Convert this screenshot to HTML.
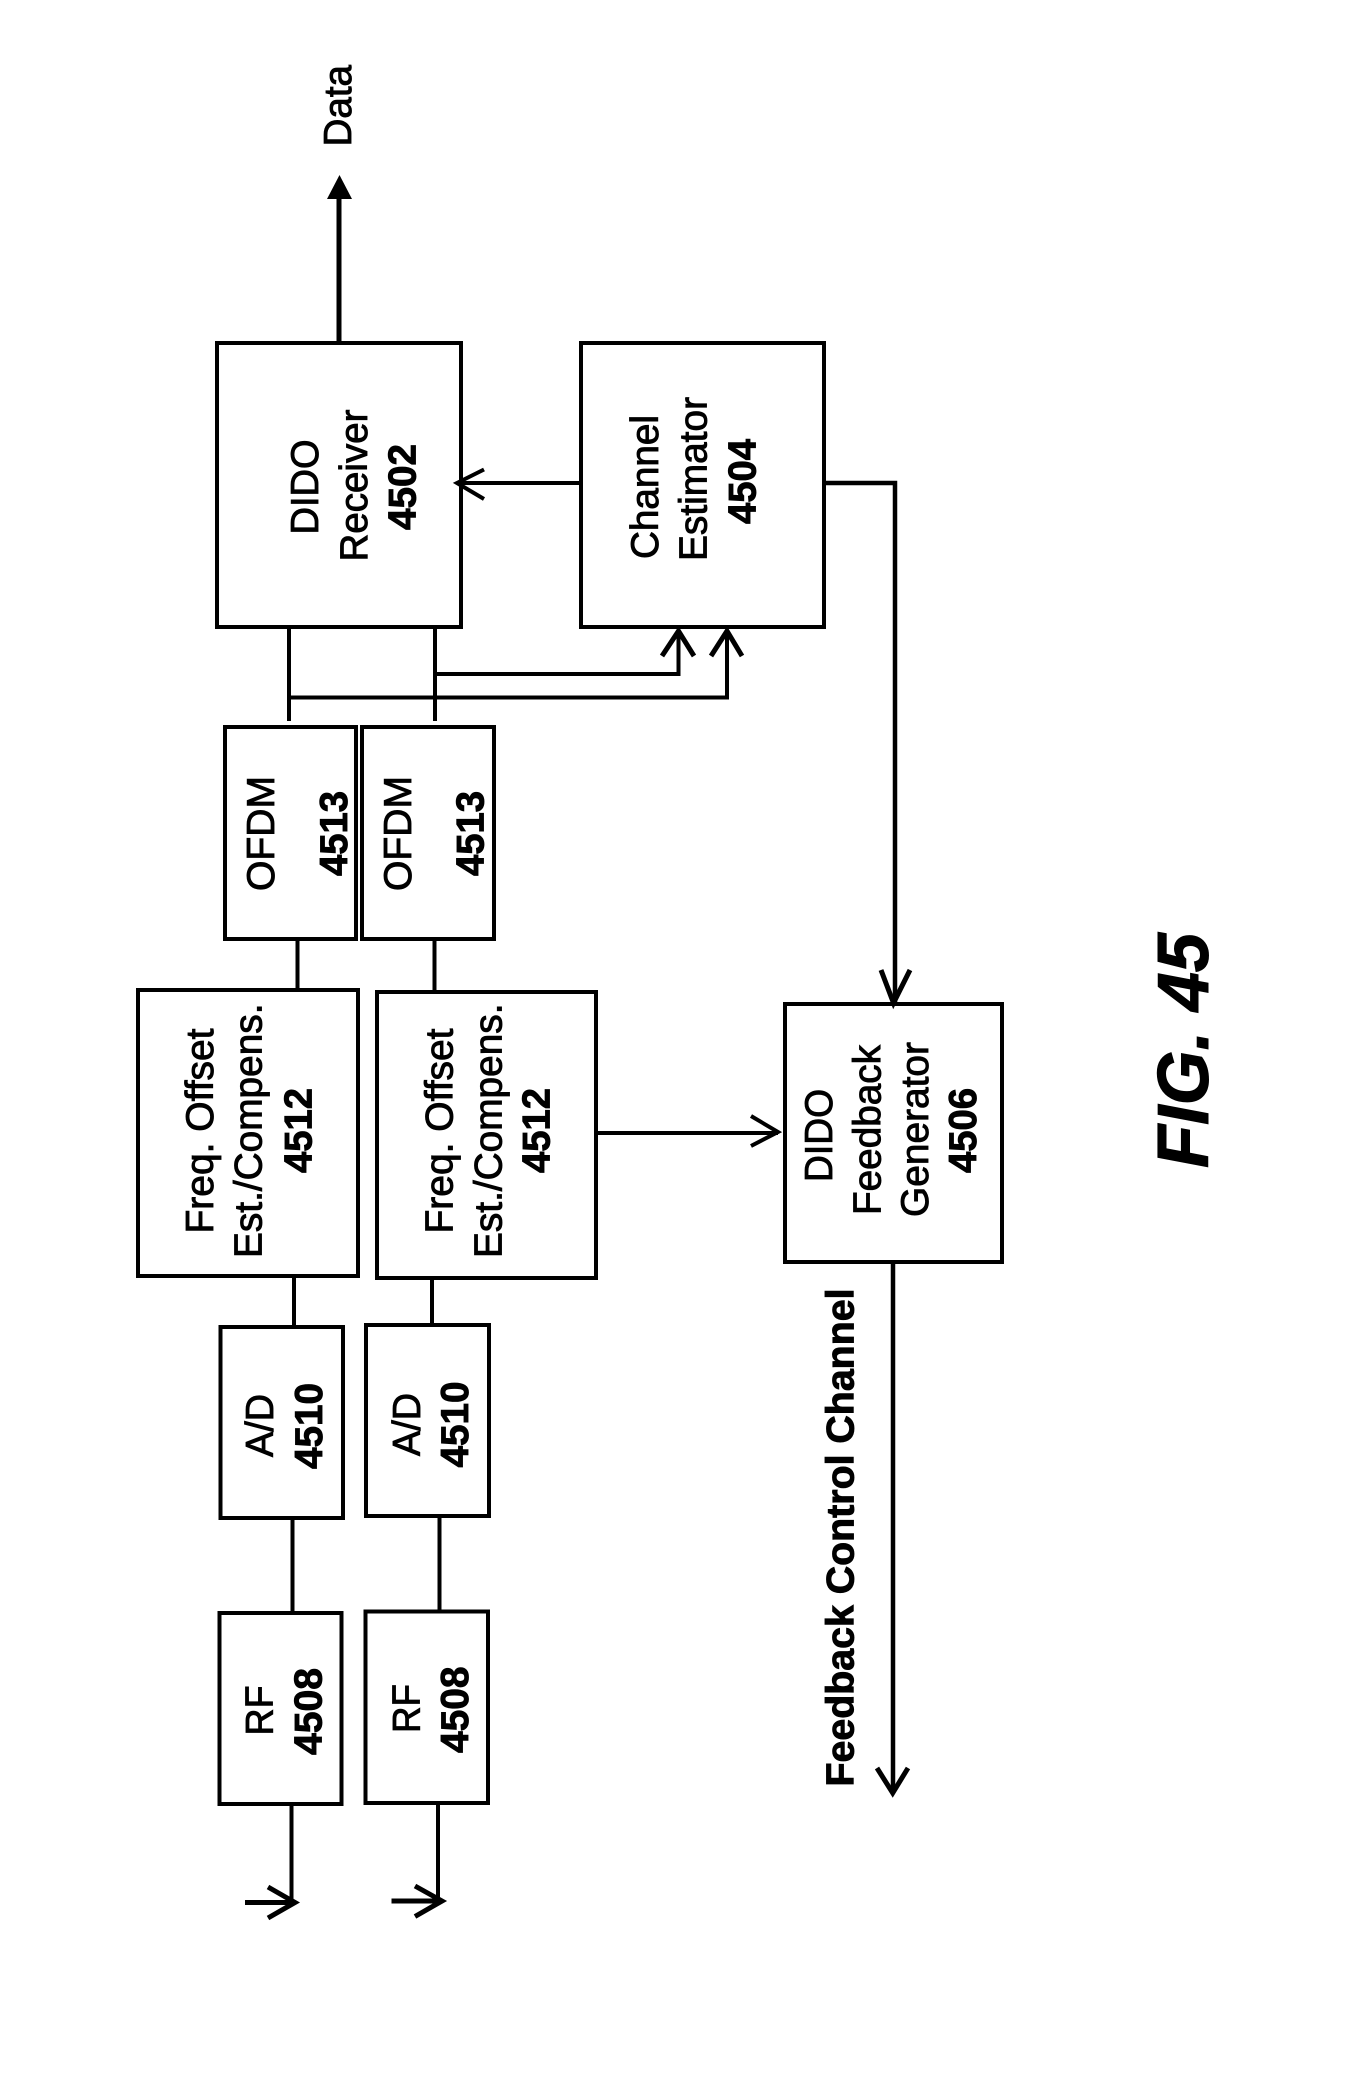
<!DOCTYPE html>
<html>
<head>
<meta charset="utf-8">
<style>
html,body{margin:0;padding:0;background:#fff}
svg{display:block}
text{font-family:"Liberation Sans",Arial,sans-serif;font-size:38.5px;fill:#000;stroke:#000;stroke-width:.9px}
.b{font-weight:bold}
</style>
</head>
<body>
<svg width="1369" height="2076" viewBox="0 0 1369 2076" xmlns="http://www.w3.org/2000/svg">
<rect width="1369" height="2076" fill="#fff"/>
<g fill="none" stroke="#000" stroke-width="4">
<rect x="217" y="343" width="244" height="284"/>
<rect x="581" y="343" width="243" height="284"/>
<rect x="225" y="727" width="131" height="212"/>
<rect x="362" y="727" width="132" height="212"/>
<rect x="138" y="990" width="220" height="286"/>
<rect x="377" y="992" width="219" height="286"/>
<rect x="785" y="1004" width="217" height="258"/>
<rect x="220.5" y="1327" width="122.5" height="191"/>
<rect x="366" y="1325" width="123" height="191"/>
<rect x="219.5" y="1613" width="122" height="191"/>
<rect x="365.5" y="1611.5" width="122.5" height="191.5"/>
</g>
<g fill="none" stroke="#000" stroke-width="4" stroke-linejoin="miter">
<path d="M581 483H457"/>
<path d="M484 469.5L457 483L484 499"/>
<path d="M824 483H895V1003" stroke-width="4.5"/>
<path d="M881 970L893.5 1003L910 970" stroke-width="5"/>
<path d="M289 627V721"/>
<path d="M435 627V721"/>
<path d="M435 674H678.5V631"/>
<path d="M662 656L678.5 631L694 656" stroke-width="5"/>
<path d="M289 697.5H727V631"/>
<path d="M711 656L727 631L742 656" stroke-width="5"/>
<path d="M297.5 939V990"/>
<path d="M434.5 939V992"/>
<path d="M294 1276V1327"/>
<path d="M432 1278V1325"/>
<path d="M596 1133H778"/>
<path d="M751 1116L778 1132L751 1146"/>
<path d="M292.5 1518V1613"/>
<path d="M439.5 1516V1611.5"/>
<path d="M291.5 1804V1902"/>
<path d="M438 1803V1901"/>
<path d="M245 1902.5H295" stroke-width="5"/>
<path d="M268 1887L295 1902.5L268 1918" stroke-width="5"/>
<path d="M391.5 1901H442" stroke-width="5"/>
<path d="M415 1886L442 1901L415 1916.5" stroke-width="5"/>
<path d="M893 1262V1792" stroke-width="4.5"/>
<path d="M877 1768L892.7 1793L908 1768" stroke-width="5"/>
</g>
<path d="M339 343V197" stroke="#000" stroke-width="5" fill="none"/>
<path d="M339.5 175L352 199H327Z" fill="#000"/>

<text transform="translate(351,146.5) rotate(-90)" textLength="81.5" lengthAdjust="spacingAndGlyphs">Data</text>

<text transform="translate(318,534.5) rotate(-90)" textLength="95" lengthAdjust="spacingAndGlyphs">DIDO</text>
<text transform="translate(367,561.5) rotate(-90)" textLength="152" lengthAdjust="spacingAndGlyphs">Receiver</text>
<text class="b" transform="translate(415.5,530) rotate(-90)" textLength="86" lengthAdjust="spacingAndGlyphs">4502</text>

<text transform="translate(658,559) rotate(-90)" textLength="144" lengthAdjust="spacingAndGlyphs">Channel</text>
<text transform="translate(706.5,561) rotate(-90)" textLength="164" lengthAdjust="spacingAndGlyphs">Estimator</text>
<text class="b" transform="translate(755.5,524) rotate(-90)" textLength="85" lengthAdjust="spacingAndGlyphs">4504</text>

<text transform="translate(274,891) rotate(-90)" textLength="115" lengthAdjust="spacingAndGlyphs">OFDM</text>
<text class="b" transform="translate(347,876) rotate(-90)" textLength="85" lengthAdjust="spacingAndGlyphs">4513</text>
<text transform="translate(411,891) rotate(-90)" textLength="115" lengthAdjust="spacingAndGlyphs">OFDM</text>
<text class="b" transform="translate(483.5,876) rotate(-90)" textLength="85" lengthAdjust="spacingAndGlyphs">4513</text>

<text transform="translate(213,1233.5) rotate(-90)" textLength="205" lengthAdjust="spacingAndGlyphs">Freq. Offset</text>
<text transform="translate(261.5,1258) rotate(-90)" textLength="254.5" lengthAdjust="spacingAndGlyphs">Est./Compens.</text>
<text class="b" transform="translate(311.5,1173) rotate(-90)" textLength="85" lengthAdjust="spacingAndGlyphs">4512</text>

<text transform="translate(452.5,1233.5) rotate(-90)" textLength="205" lengthAdjust="spacingAndGlyphs">Freq. Offset</text>
<text transform="translate(501.5,1258) rotate(-90)" textLength="254.5" lengthAdjust="spacingAndGlyphs">Est./Compens.</text>
<text class="b" transform="translate(549.5,1173) rotate(-90)" textLength="85" lengthAdjust="spacingAndGlyphs">4512</text>

<text transform="translate(832,1182) rotate(-90)" textLength="93" lengthAdjust="spacingAndGlyphs">DIDO</text>
<text transform="translate(880.5,1215) rotate(-90)" textLength="170" lengthAdjust="spacingAndGlyphs">Feedback</text>
<text transform="translate(928,1217) rotate(-90)" textLength="175" lengthAdjust="spacingAndGlyphs">Generator</text>
<text class="b" transform="translate(976,1173) rotate(-90)" textLength="85" lengthAdjust="spacingAndGlyphs">4506</text>

<text transform="translate(273,1457) rotate(-90)" textLength="63" lengthAdjust="spacingAndGlyphs">A/D</text>
<text class="b" transform="translate(322,1469) rotate(-90)" textLength="86" lengthAdjust="spacingAndGlyphs">4510</text>
<text transform="translate(420,1456) rotate(-90)" textLength="63" lengthAdjust="spacingAndGlyphs">A/D</text>
<text class="b" transform="translate(468,1467.5) rotate(-90)" textLength="86" lengthAdjust="spacingAndGlyphs">4510</text>

<text transform="translate(272.5,1735.5) rotate(-90)" textLength="50" lengthAdjust="spacingAndGlyphs">RF</text>
<text class="b" transform="translate(321.5,1755) rotate(-90)" textLength="87" lengthAdjust="spacingAndGlyphs">4508</text>
<text transform="translate(419.5,1733) rotate(-90)" textLength="49" lengthAdjust="spacingAndGlyphs">RF</text>
<text class="b" transform="translate(468,1753) rotate(-90)" textLength="86.5" lengthAdjust="spacingAndGlyphs">4508</text>

<text class="b" transform="translate(853.5,1786.5) rotate(-90)" textLength="498" lengthAdjust="spacingAndGlyphs">Feedback Control Channel</text>

<text class="b" transform="translate(1208,1168) rotate(-90)" textLength="235" lengthAdjust="spacingAndGlyphs" style="font-size:72px;font-style:italic;stroke-width:1px">FIG. 45</text>
</svg>
</body>
</html>
